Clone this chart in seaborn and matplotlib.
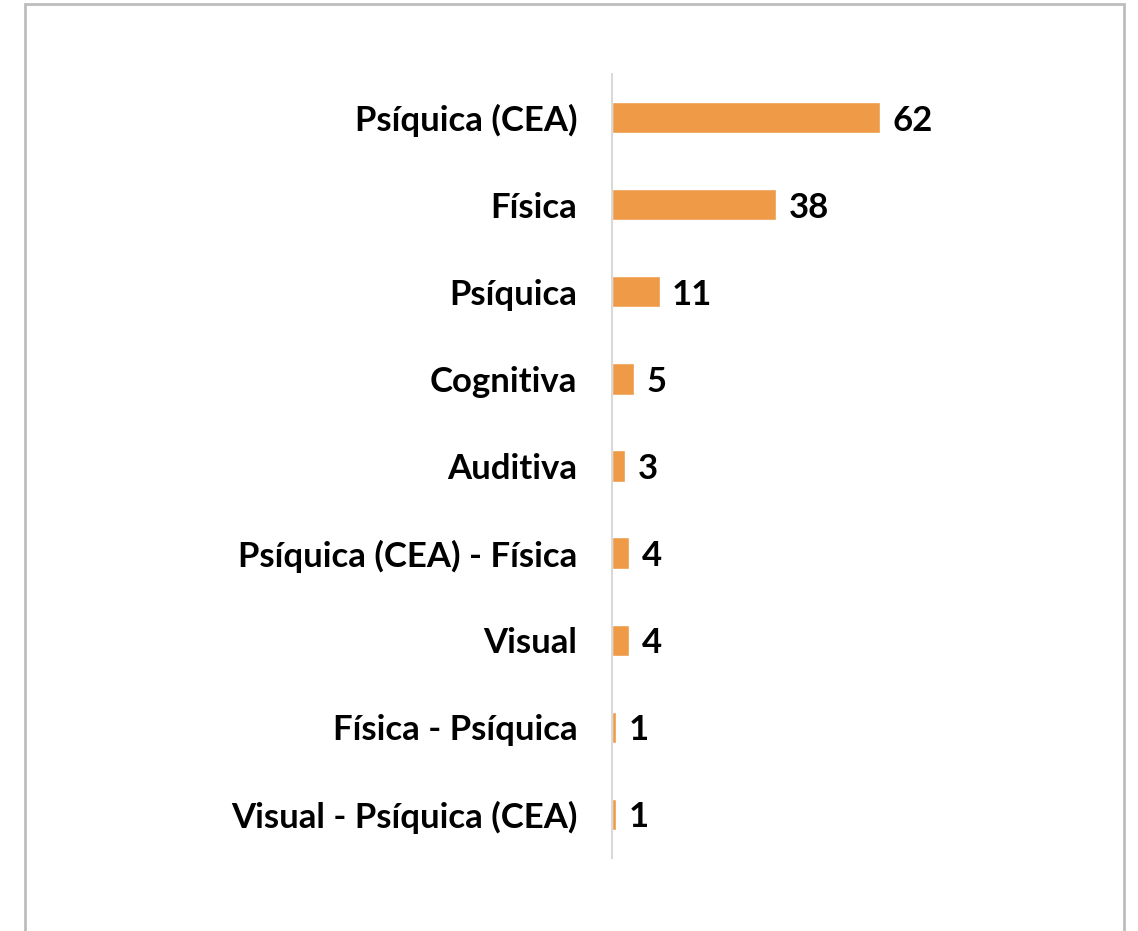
import matplotlib
matplotlib.use("Agg")
import matplotlib.pyplot as plt
import seaborn as sns
import pandas as pd
from matplotlib.patches import Rectangle

categories = ["Psíquica (CEA)", "Física", "Psíquica", "Cognitiva", "Auditiva",
              "Psíquica (CEA) - Física", "Visual", "Física - Psíquica",
              "Visual - Psíquica (CEA)"]
values = [62, 38, 11, 5, 3, 4, 4, 1, 1]

df = pd.DataFrame({"categoria": categories, "valor": values})

sns.set_theme(style="white")
plt.rcParams['font.family'] = ['Lato', 'DejaVu Sans']

fig = plt.figure(figsize=(11.38, 9.31), dpi=100)
ax = fig.add_axes([612 / 1138, 1 - 858 / 931, 458 / 1138, 784 / 931])

sns.barplot(data=df, y="categoria", x="valor", orient="h", color="#EE9A47",
            saturation=1, width=0.36, ax=ax, order=categories)

ax.set_xlim(0, 106)
ax.set_ylim(len(categories) - 0.5, -0.5)
ax.set_xlabel("")
ax.set_ylabel("")
ax.set_xticks([])
for s in ["top", "right", "bottom"]:
    ax.spines[s].set_visible(False)
ax.spines["left"].set_color("#D9D9D9")
ax.spines["left"].set_linewidth(1.5)
ax.tick_params(axis="y", length=0, pad=25)
for lab in ax.get_yticklabels():
    lab.set_fontsize(25)
    lab.set_fontweight("bold")
    lab.set_color("black")
    lab.set_verticalalignment("center_baseline")

for i, v in enumerate(values):
    ax.annotate(str(v), xy=(v, i), xytext=(9, 0), textcoords="offset points",
                va="center_baseline", ha="left", fontsize=25, fontweight="bold",
                color="black")

fig.patches.append(Rectangle((24.5 / 1138, -0.05), (1124 - 24.5) / 1138, 1.05 - 4.5 / 931,
                             transform=fig.transFigure, fill=False,
                             edgecolor="#BDBDBD", linewidth=2, zorder=0))

fig.savefig("out.png", dpi=100, facecolor="white")
